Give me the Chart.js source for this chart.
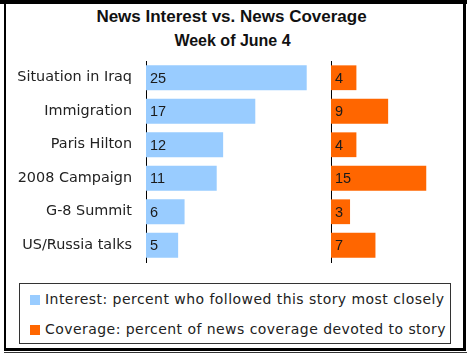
<!DOCTYPE html>
<html>
<head>
<meta charset="utf-8">
<script src="https://cdn.jsdelivr.net/npm/chart.js@4"></script>
<style>
  html, body { margin:0; padding:0; background:#fff; }
  body { width:470px; height:357px; position:relative; overflow:hidden; }
  .abs { position:absolute; }
  #topbar { left:0; top:0; width:467px; height:4px; background:#000; }
  #frame { left:4px; top:0; width:462px; height:351px; box-sizing:border-box;
           border-top:4px solid #000; border-left:2px solid #000; border-right:3px solid #000; border-bottom:3px solid #000; }
  #frame2 { left:4px; top:352px; width:463px; height:1px; background:#333; }
  #title { left:0; top:7px; width:463px; text-align:center; font:bold 17px "Liberation Sans", Arial, sans-serif; color:#111; }
  #subtitle { left:0; top:32px; width:465px; text-align:center; font:bold 16px "Liberation Sans", Arial, sans-serif; color:#111; }
  #legend { left:19px; top:283px; width:432px; height:61px; box-sizing:border-box; border:1px solid #333; }
  .item { position:absolute; left:10px; font:14px "DejaVu Sans", Verdana, sans-serif; letter-spacing:0.45px; color:#222; white-space:nowrap; line-height:16px; }
  .sw { display:inline-block; width:10px; height:10px; margin-right:5px; vertical-align:-1px; }
  canvas { position:absolute; }
</style>
</head>
<body>
<div id="frame" class="abs"></div>
<div id="topbar" class="abs"></div>
<div id="frame2" class="abs"></div>
<div id="title" class="abs">News Interest vs. News Coverage</div>
<div id="subtitle" class="abs">Week of June 4</div>
<canvas id="left" width="326" height="221" style="left:0;top:51px"></canvas>
<canvas id="right" width="132" height="221" style="left:326px;top:51px"></canvas>
<div id="legend" class="abs">
  <div class="item" style="top:7px"><span class="sw" id="sw1"></span><span id="lg1"></span></div>
  <div class="item" style="top:37px"><span class="sw" id="sw2"></span><span id="lg2"></span></div>
</div>
<script>
const categories = ["Situation in Iraq", "Immigration", "Paris Hilton", "2008 Campaign", "G-8 Summit", "US/Russia talks"];
const interest = [25, 17, 12, 11, 6, 5];
const coverage = [4, 9, 4, 15, 3, 7];
const seriesNames = ["Interest: percent who followed this story most closely", "Coverage: percent of news coverage devoted to story"];
const colors = ["#99ccff", "#ff6600"];

document.getElementById('lg1').textContent = seriesNames[0];
document.getElementById('lg2').textContent = seriesNames[1];
document.getElementById('sw1').style.background = colors[0];
document.getElementById('sw2').style.background = colors[1];

const valueLabels = {
  id: 'valueLabels',
  afterDatasetsDraw(chart) {
    const ctx = chart.ctx;
    ctx.save();
    ctx.font = '14.5px "Liberation Sans", Arial, sans-serif';
    ctx.fillStyle = '#1a1a1a';
    ctx.textAlign = 'left';
    ctx.textBaseline = 'middle';
    chart.getDatasetMeta(0).data.forEach((bar, i) => {
      ctx.fillText(String(chart.data.datasets[0].data[i]), bar.base + 4, bar.y + 1);
    });
    ctx.restore();
  }
};

function makeChart(id, data, color, max, yWidth, showLabels) {
  return new Chart(document.getElementById(id), {
    type: 'bar',
    data: { labels: categories, datasets: [{ data: data, backgroundColor: color, borderWidth: 0,
            barPercentage: 0.74, categoryPercentage: 1.0 }] },
    options: {
      indexAxis: 'y',
      responsive: false,
      animation: false,
      layout: { padding: { top: 10, bottom: 10, left: 0, right: 0 } },
      plugins: { legend: { display: false }, tooltip: { enabled: false }, title: { display: false } },
      scales: {
        x: { display: false, min: 0, max: max },
        y: {
          grid: { drawOnChartArea: false, drawTicks: true, tickLength: 14, color: 'rgba(0,0,0,0)' },
          border: { display: true, color: '#000', width: 1 },
          ticks: { display: showLabels, padding: 0, color: '#222',
                   font: { family: '"DejaVu Sans", Verdana, sans-serif', size: 14.4 } },
          afterFit(scale) { scale.width = yWidth; }
        }
      }
    },
    plugins: [valueLabels]
  });
}

makeChart('left', interest, colors[0], 28, 146, true);
makeChart('right', coverage, colors[1], 20, 5, false);
</script>
</body>
</html>
